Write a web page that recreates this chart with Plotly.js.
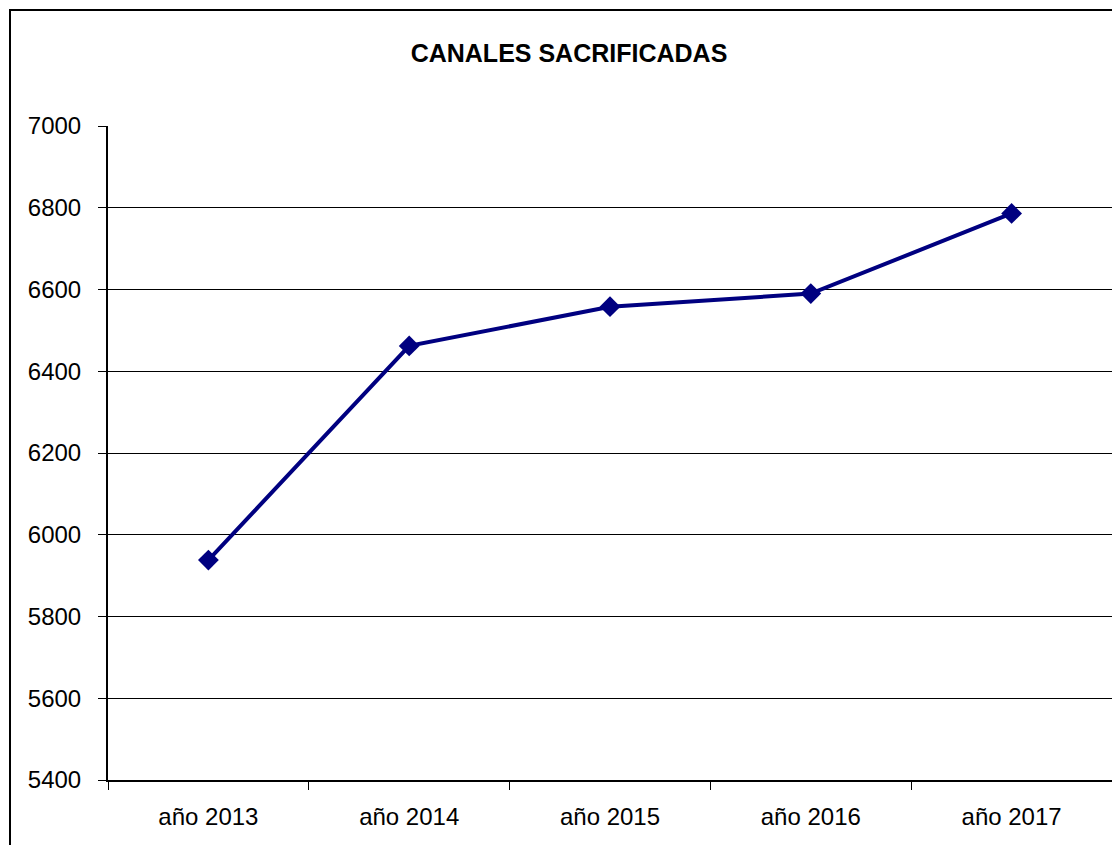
<!DOCTYPE html>
<html>
<head>
<meta charset="utf-8">
<script src="https://cdn.plot.ly/plotly-3.0.1.min.js"></script>
<style>
html,body{margin:0;padding:0;background:#fff;}
#chart{width:1112px;height:845px;}
</style>
</head>
<body>
<div id="chart"></div>
<script>
const categories = ["año 2013", "año 2014", "año 2015", "año 2016", "año 2017"];
const values = [5938, 6462, 6558, 6590, 6786];
const yTicks = [5400, 5600, 5800, 6000, 6200, 6400, 6600, 6800, 7000];
const chartTitle = "CANALES SACRIFICADAS";

const W = 1112, H = 845;
const L = 108, T = 126, R = 0, B = 65;
const pw = W - L - R, ph = H - T - B;

const trace = {
  type: "scatter",
  mode: "lines+markers",
  x: categories,
  y: values,
  line: {color: "#000080", width: 4},
  marker: {symbol: "diamond", size: 16, color: "#000080"},
  cliponaxis: false,
  hoverinfo: "x+y"
};

const layout = {
  width: W, height: H,
  margin: {l: L, t: T, r: R, b: B, pad: 0},
  paper_bgcolor: "#fff",
  plot_bgcolor: "#fff",
  showlegend: false,
  font: {family: "Liberation Sans, Arial, sans-serif", color: "#000", size: 24},
  title: {
    text: "<b>" + chartTitle + "</b>",
    font: {family: "Liberation Sans, Arial, sans-serif", size: 25, color: "#000"},
    xref: "container", x: 569 / W, xanchor: "center",
    yref: "container", y: 1 - 53 / H, yanchor: "middle"
  },
  xaxis: {
    type: "category",
    range: [-0.5, 4.5],
    showgrid: false,
    showline: true, linecolor: "#000", linewidth: 2,
    ticks: "outside", tickson: "boundaries", ticklen: 8, tickcolor: "#000", tickwidth: 1,
    ticklabelstandoff: 14,
    tickfont: {size: 24, color: "#000"},
    zeroline: false, fixedrange: true
  },
  yaxis: {
    range: [5400, 7000],
    tickvals: yTicks,
    ticktext: yTicks.map(String),
    showgrid: true, gridcolor: "#000", gridwidth: 1,
    showline: true, linecolor: "#000", linewidth: 2,
    ticks: "outside", ticklen: 8, tickcolor: "#000", tickwidth: 1,
    ticklabelstandoff: 12,
    tickfont: {size: 24, color: "#000"},
    zeroline: false, fixedrange: true
  },
  shapes: [
    {
      type: "rect", xref: "paper", yref: "paper",
      x0: (10 - L) / pw, x1: (W + 20 - L) / pw,
      y0: -(B + 20) / ph, y1: (H - B - 10) / ph,
      line: {color: "#000", width: 2}, fillcolor: "rgba(0,0,0,0)", layer: "below"
    }
  ]
};

Plotly.newPlot("chart", [trace], layout, {displayModeBar: false, staticPlot: true});
</script>
</body>
</html>
